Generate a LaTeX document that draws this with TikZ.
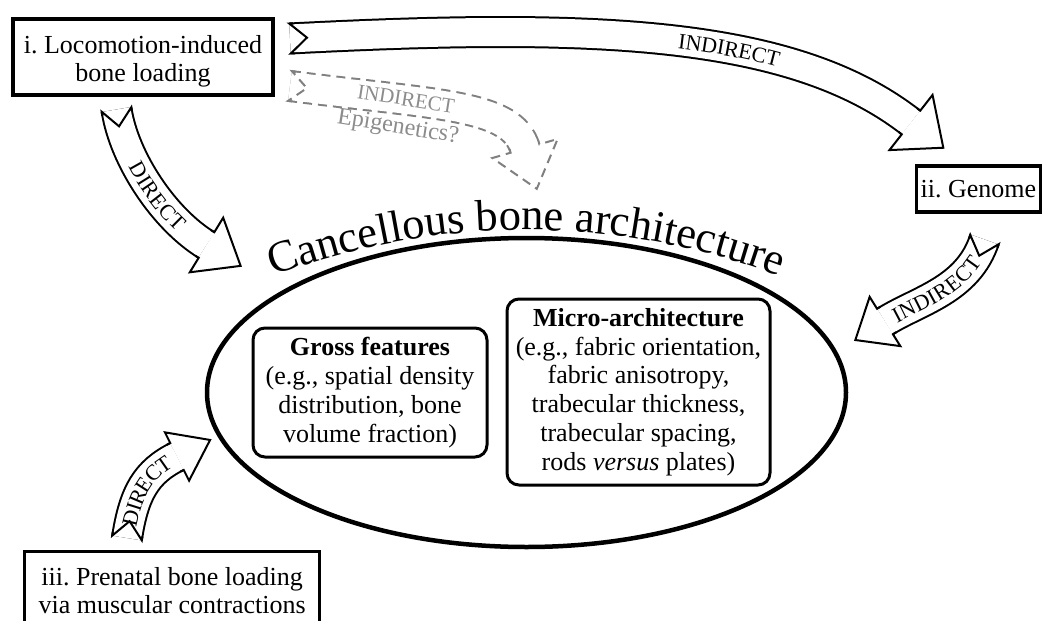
\documentclass[tikz,border=0pt]{standalone}
\usepackage{fontspec}
\setmainfont{Liberation Serif}
\usetikzlibrary{calc,decorations.text,shapes.geometric}
\definecolor{refgray}{RGB}{128,128,128}
\definecolor{lblgray}{RGB}{140,140,140}
\newcommand{\bodyfont}{\fontsize{26}{28.8}\selectfont}
\newcommand{\lblfont}{\fontsize{22}{22}\selectfont}
\newcommand{\titlefont}{\fontsize{44.5}{44.5}\selectfont}
\tikzset{
  fa edge/.style={draw=black, line width=2pt},
  box/.style={draw, line width=3.2pt, align=center, font=\bodyfont, inner xsep=6pt},
  boxtext/.style={align=center, font=\bodyfont, inner sep=0pt},
  rbox/.style={draw, line width=3pt, rounded corners=12pt, align=center, font=\bodyfont},
  lbl/.style={font=\lblfont, text=lblgray, inner sep=0pt},
}
% #1 style, #2 start, #3 control 1, #4 control 2, #5 end, #6 head half width, #7 head length
\newcommand{\fatarrow}[7][]{%
  \begin{scope}[#1]
    \coordinate (fS) at #2;
    \coordinate (fC1) at #3;
    \coordinate (fC2) at #4;
    \coordinate (fE) at #5;
    \coordinate (fS2) at ($(fS)!4pt!(fC1)$);
    \coordinate (fE2) at ($(fE)!4pt!(fC2)$);
    \draw[fa edge, line width=32pt] (fS) .. controls (fC1) and (fC2) .. (fE);
    \draw[white, solid, line width=28pt] (fS) .. controls (fC1) and (fC2) .. (fE);
    \fill[white] ($(fE)!#6pt!90:(fC2)$) -- ($(fE)!-#7pt!(fC2)$) -- ($(fE)!#6pt!-90:(fC2)$) -- cycle;
    \draw[fa edge, line join=miter] ($(fE2)!15pt!90:(fC2)$) -- ($(fE)!15pt!90:(fC2)$) -- ($(fE)!#6pt!90:(fC2)$) -- ($(fE)!-#7pt!(fC2)$) -- ($(fE)!#6pt!-90:(fC2)$) -- ($(fE)!15pt!-90:(fC2)$) -- ($(fE2)!15pt!-90:(fC2)$);
    \draw[fa edge, line join=miter] ($(fS2)!15pt!90:(fC1)$) -- ($(fS)!15pt!90:(fC1)$) -- ($(fS)!17pt!(fC1)$) -- ($(fS)!15pt!-90:(fC1)$) -- ($(fS2)!15pt!-90:(fC1)$);
  \end{scope}}

\begin{document}
\frenchspacing
\begin{tikzpicture}[x=1pt, y=-1pt]
\useasboundingbox (0,0) rectangle (1042,621);
\fill[white] (0,0) rectangle (1042,621);

% nodes
\node[box, minimum width=260pt, minimum height=76pt] (loco) at (143,57) {};
\node[boxtext] (locotext) at (143,61.3) {i. Locomotion-induced\\bone loading};
\node[box, anchor=west, minimum height=46pt, inner xsep=4pt] (genome) at (915,189) {ii. Genome};
\node[box, anchor=north west, minimum width=295pt, inner ysep=15.5pt] (prenatal) at (23,550) {iii. Prenatal bone loading\\via muscular contractions};
\node[draw, ellipse, line width=4.5pt, minimum width=639pt, minimum height=309pt, inner sep=0pt] (core) at (526.5,392.5) {};
\node[rbox, minimum width=234pt, minimum height=129pt] (gross) at (370,392.5) {\textbf{Gross features}\\(e.g., spatial density\\distribution, bone\\volume fraction)};
\node[rbox, minimum width=263pt, minimum height=186pt] (micro) at (638.5,392) {\textbf{Micro-architecture}\\(e.g., fabric orientation,\\fabric anisotropy,\\trabecular thickness,\\trabecular spacing,\\rods \textit{versus} plates)};

% title on an arc
\coordinate (tA) at (234.4,292.0);
\path[decorate, decoration={text along path, text={|\titlefont|Cancellous bone architecture}, text align=center}]
  (tA) arc[start angle=246, end angle=294, radius=717];

% arrows
\fatarrow{(116.5,109.5)}{(124,159)}{(164,219)}{(206.5,245)}{32}{40}
\path[decorate, decoration={text along path, text={|\lblfont|DIRECT}, text align={left indent=57pt}, raise=-7.5pt}]
  (116.5,109.5) .. controls (124,159) and (164,219) .. (206.5,245);

\fatarrow{(290,38.5)}{(590,23)}{(792,29.5)}{(911,122.5)}{35}{41}
\path[decorate, decoration={text along path, text={|\lblfont|INDIRECT}, text align={left indent=389pt}, raise=-7.5pt}]
  (290,38.5) .. controls (590,23) and (792,29.5) .. (911,122.5);

\fatarrow[fa edge/.style={draw=refgray, line width=2pt, dash pattern=on 9pt off 6pt}]{(290,86)}{(438,105)}{(512,104)}{(525,148.5)}{34}{42}
\node[lbl, rotate=-9] (indlbl) at (406,99) {\fontsize{21}{21}\selectfont INDIRECT};
\node[lbl, rotate=-9] (epilbl) at (398,128) {\fontsize{24}{24}\selectfont Epigenetics?};

\fatarrow{(984.5,239.5)}{(968,290)}{(919,300.3)}{(885,321.5)}{29}{35}
\path[decorate, decoration={text along path, text={|\lblfont|INDIRECT}, text align={left indent=10pt}, raise=-7.5pt}]
  (885,321.5) .. controls (919,300.3) and (968,290) .. (984.5,239.5);

\fatarrow{(127,538)}{(134,493)}{(146,472)}{(177,456.5)}{27}{37}
\path[decorate, decoration={text along path, text={|\lblfont|DIRECT}, text align={left indent=12pt}, raise=-7.5pt}]
  (127,538) .. controls (134,493) and (146,472) .. (177,456.5);
\end{tikzpicture}
\end{document}
